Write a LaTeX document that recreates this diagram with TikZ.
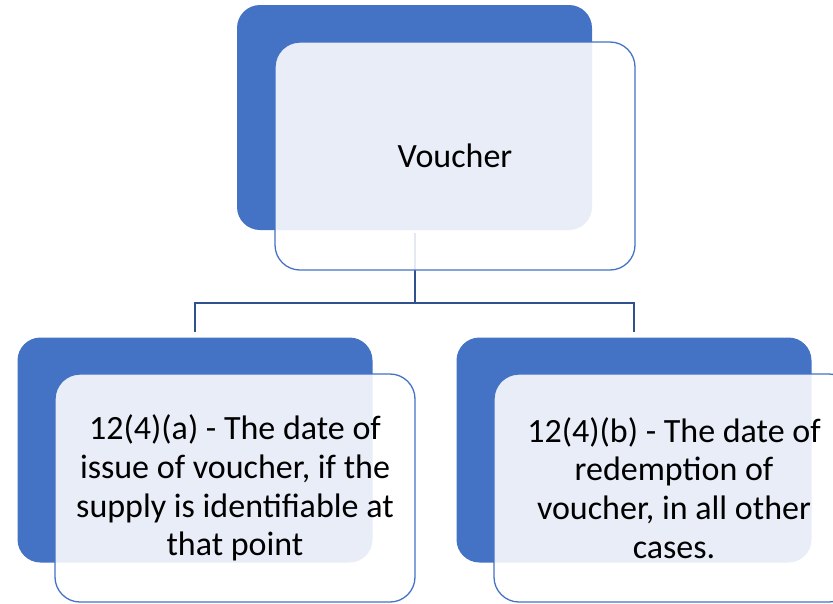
\documentclass[tikz,border=0pt]{standalone}
\usepackage{fontspec}
\setmainfont{Carlito}
\usepackage{tikz}

\definecolor{boxblue}{HTML}{4472C4}
\definecolor{linkblue}{HTML}{2F528F}

\begin{document}
\begin{tikzpicture}[x=1pt,y=-1pt,
    back/.style={fill=boxblue, rounded corners=23pt, minimum width=355pt, minimum height=225pt, inner sep=0pt},
    front/.style={draw=boxblue, line width=1.3pt, fill=white, fill opacity=0.88, text opacity=1,
        rounded corners=25pt, minimum width=360pt, minimum height=228pt, inner sep=0pt,
        align=center, font=\fontsize{34}{38.7}\selectfont},
    link/.style={draw=linkblue, line width=2pt}]
    \useasboundingbox (0,0) rectangle (833,603);
    \clip (0,0) rectangle (833,603);

    \node[back] (vback) at (414.5,117.5) {};
    \node[back] (aback) at (195,450) {};
    \node[back] (bback) at (634,450) {};

    \coordinate (bus) at (414.5,303);
    \draw[link, shorten <=3pt] (vback.south) -- (bus);
    \draw[link, shorten <=5pt, shorten >=5pt] (aback.north) |- (bus) -| (bback.north);

    \node[front] (vfront) at (455,156) {Voucher};
    \node[front] (afront) at (235,488) {12(4)(a) - The date of\\issue of voucher, if the\\supply is identifiable at\\that point};
    \node[front] (bfront) at (674,488) {12(4)(b) - The date of\\redemption of\\voucher, in all other\\cases.};
\end{tikzpicture}
\end{document}
